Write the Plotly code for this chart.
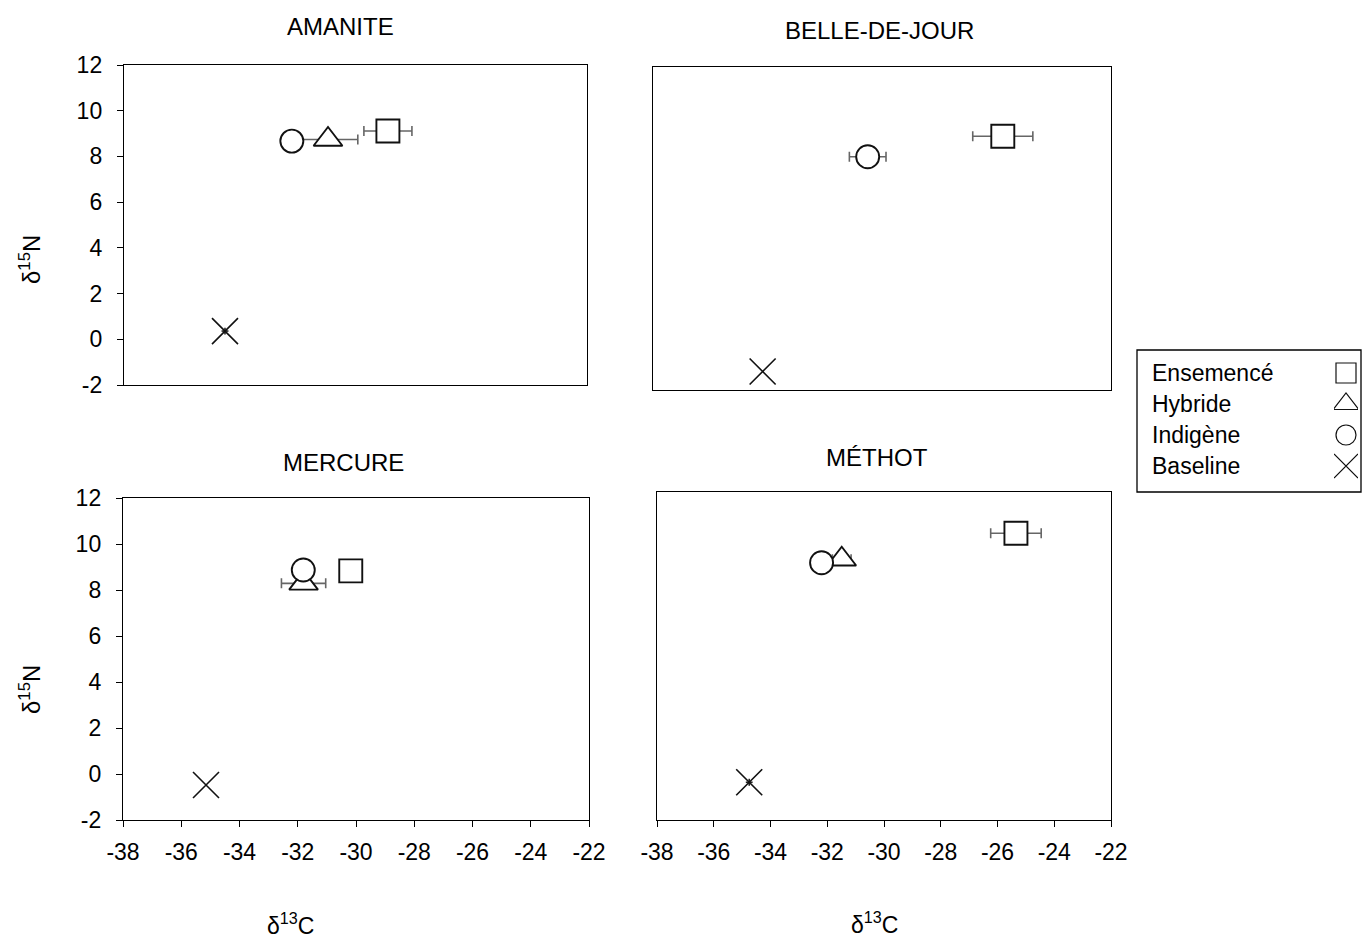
import plotly.graph_objects as go

# ---- data -------------------------------------------------------------
sites = ["AMANITE", "BELLE-DE-JOUR", "MERCURE", "MÉTHOT"]
groups = ["Ensemencé", "Hybride", "Indigène", "Baseline"]

# δ13C means per site, ordered as in `groups` (None = no sample)
d13c_amanite = [-28.88, -30.95, -32.20, -34.51]
d13c_belle = [-25.78, None, -30.50, -34.17]
d13c_mercure = [-30.18, -31.80, -31.81, -35.15]
d13c_methot = [-25.35, -31.49, -32.20, -34.75]

# δ15N means
d15n_amanite = [9.11, 8.74, 8.67, 0.36]
d15n_belle = [9.00, None, 8.11, -1.20]
d15n_mercure = [8.83, 8.29, 8.87, -0.48]
d15n_methot = [10.24, 9.13, 8.98, -0.39]

# standard errors on δ13C and δ15N
se13c_amanite = [0.83, 1.03, 0.0, 0.12]
se13c_belle = [1.05, 0.0, 0.64, 0.0]
se13c_mercure = [0.0, 0.76, 0.0, 0.0]
se13c_methot = [0.89, 0.33, 0.0, 0.12]

se15n_amanite = [0.0, 0.0, 0.0, 0.15]
se15n_belle = [0.0, 0.0, 0.0, 0.0]
se15n_mercure = [0.0, 0.0, 0.0, 0.0]
se15n_methot = [0.0, 0.0, 0.0, 0.15]

x_ticks = [-38, -36, -34, -32, -30, -28, -26, -24, -22]
y_ticks = [-2, 0, 2, 4, 6, 8, 10, 12]

# ---- layout helpers ---------------------------------------------------
W, H = 1363, 941


def px_x(p):
    return min(max(p / W, 0.0), 1.0)


def px_y(p):
    return min(max(1 - p / H, 0.0), 1.0)


FONT = "Arial, Liberation Sans, sans-serif"
FS = 23
symbols = {"Ensemencé": "square", "Hybride": "triangle-up",
           "Indigène": "circle", "Baseline": "x-thin"}
sizes = {"Ensemencé": 23, "Hybride": 25, "Indigène": 23, "Baseline": 26}
draw_order = ["Ensemencé", "Hybride", "Indigène", "Baseline"]

panels = [
    # name, x, y, se_x, se_y, (left, right, top, bottom) px, x labels, y labels, title centre
    ("AMANITE", d13c_amanite, d15n_amanite, se13c_amanite, se15n_amanite,
     (124, 587, 65, 385), False, True, (340, 27)),
    ("BELLE-DE-JOUR", d13c_belle, d15n_belle, se13c_belle, se15n_belle,
     (653, 1111, 67, 390), False, False, (880, 31)),
    ("MERCURE", d13c_mercure, d15n_mercure, se13c_mercure, se15n_mercure,
     (123, 589, 498, 820), True, True, (343, 462)),
    ("MÉTHOT", d13c_methot, d15n_methot, se13c_methot, se15n_methot,
     (657, 1111, 492, 820), True, False, (877, 457)),
]

fig = go.Figure()
layout = dict(
    width=W, height=H, margin=dict(l=0, r=0, t=0, b=0, pad=0), autosize=False,
    paper_bgcolor="white", plot_bgcolor="white", showlegend=False,
    font=dict(family=FONT, size=FS, color="black"),
)
annotations = []
shapes = []

for i, (name, xs, ys, sx, sy, box, show_x, show_y, tpos) in enumerate(panels, start=1):
    xa = "x" if i == 1 else f"x{i}"
    ya = "y" if i == 1 else f"y{i}"
    for g in draw_order:
        k = groups.index(g)
        if xs[k] is None:
            continue
        is_x = g == "Baseline"
        fig.add_trace(go.Scatter(
            x=[xs[k]], y=[ys[k]], xaxis=xa, yaxis=ya, mode="markers", name=g,
            marker=dict(symbol=symbols[g], size=sizes[g], color="#111" if is_x else "white",
                        line=dict(color="#111", width=1.6 if is_x else 1.9)),
            error_x=dict(type="data", array=[sx[k]], visible=sx[k] > 0,
                         color="#222" if is_x else "#666", thickness=1.6,
                         width=0 if is_x else 5),
            error_y=dict(type="data", array=[sy[k]], visible=sy[k] > 0,
                         color="#222", thickness=1.6, width=0),
        ))
    l, r, t, b = box
    axis_common = dict(showgrid=False, zeroline=False, showline=True, mirror=True,
                       linecolor="black", linewidth=1.4, ticklen=6,
                       tickcolor="black", tickwidth=1.4, automargin=False,
                       tickfont=dict(family=FONT, size=FS, color="black"))
    layout["xaxis" if i == 1 else f"xaxis{i}"] = dict(
        axis_common, domain=[px_x(l), px_x(r)], range=[-38, -22],
        anchor=ya, tickvals=x_ticks, ticktext=[str(v) for v in x_ticks],
        showticklabels=show_x, ticks="outside" if show_x else "",
        ticklabelstandoff=5,
    )
    layout["yaxis" if i == 1 else f"yaxis{i}"] = dict(
        axis_common, domain=[px_y(b), px_y(t)], range=[-2, 12],
        anchor=xa, tickvals=y_ticks, ticktext=[str(v) for v in y_ticks],
        showticklabels=show_y, ticks="outside" if show_y else "",
        ticklabelstandoff=10,
    )
    annotations.append(dict(text=name, xref="paper", yref="paper",
                            x=px_x(tpos[0]), y=px_y(tpos[1]), showarrow=False,
                            xanchor="center", yanchor="middle",
                            font=dict(family=FONT, size=FS + 1, color="black")))

# axis titles
for cx, cy in [(290, 924), (874, 923)]:
    annotations.append(dict(text="δ<sup>13</sup>C", xref="paper", yref="paper",
                            x=px_x(cx), y=px_y(cy), showarrow=False,
                            xanchor="center", yanchor="middle",
                            font=dict(family=FONT, size=FS, color="black")))
for cx, cy in [(30, 260), (30, 690)]:
    annotations.append(dict(text="δ<sup>15</sup>N", xref="paper", yref="paper",
                            x=px_x(cx), y=px_y(cy), showarrow=False, textangle=-90,
                            xanchor="center", yanchor="middle",
                            font=dict(family=FONT, size=FS + 1, color="black")))

# ---- legend (labels left, symbols right) --------------------------------
leg_l, leg_t, leg_r, leg_b = 1137, 350, 1361, 492
row_top, row_h = 357.5, 31
shapes.append(dict(type="rect", xref="paper", yref="paper",
                   x0=px_x(leg_l), x1=px_x(leg_r), y0=px_y(leg_b), y1=px_y(leg_t),
                   line=dict(color="black", width=1.3), fillcolor="rgba(0,0,0,0)"))
for j, g in enumerate(groups):
    annotations.append(dict(text=g, xref="paper", yref="paper",
                            x=px_x(1150), y=px_y(row_top + row_h * (j + 0.5)),
                            showarrow=False, xanchor="left", yanchor="middle",
                            font=dict(family=FONT, size=FS, color="black")))
for g in groups:
    is_x = g == "Baseline"
    fig.add_trace(go.Scatter(
        x=[0], y=[g], xaxis="x5", yaxis="y5", mode="markers", name=g,
        marker=dict(symbol=symbols[g], size=24 if is_x else (22 if g == "Hybride" else 20),
                    color="#111" if is_x else "white",
                    line=dict(color="#111", width=1.2)),
    ))
layout["xaxis5"] = dict(domain=[px_x(1334), px_x(1358)], range=[-1, 1], visible=False,
                        anchor="y5", fixedrange=True)
layout["yaxis5"] = dict(domain=[px_y(row_top + 4 * row_h), px_y(row_top)], type="category",
                        categoryorder="array", categoryarray=groups,
                        range=[3.5, -0.5], visible=False, anchor="x5", fixedrange=True)

layout["annotations"] = annotations
layout["shapes"] = shapes
fig.update_layout(**layout)
fig.write_html("out.html")
